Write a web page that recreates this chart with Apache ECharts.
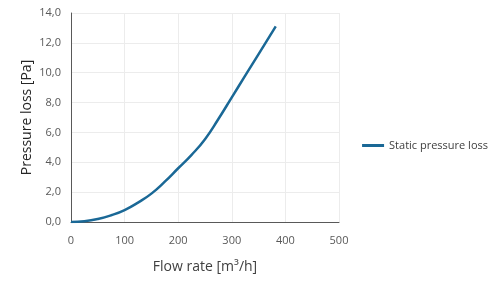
<!DOCTYPE html>
<html>
<head>
<meta charset="utf-8">
<script src="https://cdn.jsdelivr.net/npm/echarts@6/dist/echarts.min.js"></script>
<style>
  html, body { margin: 0; padding: 0; background: #fff; }
  #chart { width: 500px; height: 284px; }
</style>
</head>
<body>
<div id="chart"></div>
<script>
// flow rate [m3/h] and static pressure loss [Pa]
const flowRates = [0, 25, 50, 75, 100, 125, 150, 175, 200, 225, 250, 275, 300, 325, 350, 382];
const pressureLoss = [0, 0.05, 0.2, 0.45, 0.8, 1.3, 1.9, 2.7, 3.6, 4.5, 5.55, 6.9, 8.35, 9.8, 11.25, 13.1];
const seriesName = 'Static pressure loss';

const chart = echarts.init(document.getElementById('chart'));

const font = 'Open Sans, Noto Sans, sans-serif';

chart.setOption({
    animation: false,
    grid: { left: 71, right: 161, top: 13, bottom: 62 },
    legend: {
        right: 7,
        top: 135,
        itemWidth: 22,
        itemHeight: 3,
        itemGap: 4,
        icon: 'rect',
        textStyle: { color: '#404040', fontSize: 11, fontFamily: font },
        data: [seriesName]
    },
    xAxis: {
        type: 'value',
        min: 0,
        max: 500,
        interval: 100,
        name: 'Flow rate [m³/h]',
        nameLocation: 'middle',
        nameGap: 38,
        nameMoveOverlap: false,
        nameTextStyle: { color: '#404040', fontSize: 14, fontFamily: font },
        axisLine: { show: true, lineStyle: { color: '#595959', width: 1 } },
        axisTick: { show: false },
        axisLabel: { color: '#595959', fontSize: 11, fontFamily: font, margin: 13 },
        splitLine: { show: true, lineStyle: { color: '#ececec' } }
    },
    yAxis: {
        type: 'value',
        min: 0,
        max: 14,
        interval: 2,
        name: 'Pressure loss [Pa]',
        nameLocation: 'middle',
        nameGap: 37,
        nameMoveOverlap: false,
        nameTextStyle: { color: '#262626', fontSize: 14, fontFamily: font },
        axisLine: { show: true, lineStyle: { color: '#595959', width: 1 } },
        axisTick: { show: false },
        axisLabel: {
            color: '#595959',
            fontSize: 11,
            fontFamily: font,
            margin: 10,
            formatter: v => v.toFixed(1).replace('.', ',')
        },
        splitLine: { show: true, lineStyle: { color: '#ececec' } }
    },
    series: [{
        name: seriesName,
        type: 'line',
        data: flowRates.map((f, i) => [f, pressureLoss[i]]),
        smooth: 0.5,
        showSymbol: false,
        lineStyle: { color: '#1a6896', width: 2.5 },
        itemStyle: { color: '#1a6896' }
    }]
});
</script>
</body>
</html>
